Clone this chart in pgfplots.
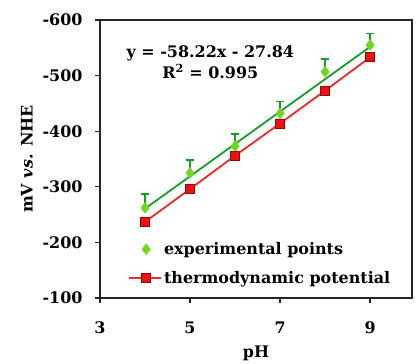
\documentclass[border=0pt]{standalone}
\usepackage{fontspec}
\setmainfont{DejaVu Serif}
\usepackage{pgfplots}
\pgfplotsset{compat=1.18}
\definecolor{gline}{RGB}{20,160,40}
\definecolor{gmark}{RGB}{110,215,30}
\definecolor{rline}{RGB}{240,40,40}
\definecolor{rmark}{RGB}{230,20,20}
\begin{document}
\begin{tikzpicture}[font=\fontsize{16}{19}\selectfont\bfseries]
\path (-100bp,-61bp) rectangle (317bp,298bp);
\begin{axis}[
  at={(0,0)}, anchor=south west,
  scale only axis,
  width=312bp, height=278bp,
  xmin=3, xmax=9.93,
  ymin=-600, ymax=-100,
  y dir=reverse,
  xtick={3,5,7,9},
  ytick={-600,-500,-400,-300,-200,-100},
  xtick pos=left, ytick pos=left,
  tick align=outside,
  major tick length=5bp,
  axis line style={line width=1.4pt, black!85},
  every tick/.style={line width=1.4pt, black!85},
  /pgf/number format/assume math mode=true,
  /pgf/number format/1000 sep={},
  xlabel={pH},
  ylabel={mV \textit{vs.} NHE},
  xlabel style={yshift=-5bp},
  ylabel style={yshift=3bp},
  xticklabel style={yshift=-15bp},
  yticklabel style={xshift=-9bp},
  legend style={draw=none, fill=none, at={(0.09,0.04)}, anchor=south west, row sep=11bp, inner sep=0pt, font=\fontsize{16}{19}\selectfont\bfseries},
  legend cell align=left,
  legend image code/.code={\draw[mark repeat=2,mark phase=2] plot coordinates {(0bp,0bp) (17bp,0bp) (32bp,0bp)};},
  clip=false,
]
% linear trend line of experimental points
\addplot[gline, line width=1.8pt, forget plot] coordinates {(4,-260.7) (9,-551.8)};
% experimental points
\addplot[only marks, mark=diamond*, mark size=5.5bp, mark options={fill=gmark, draw=gmark},
  error bars/.cd, y dir=minus, y explicit,
  error bar style={gline, line width=1.4pt},
  error mark options={gline, line width=1.4pt, mark size=4bp, rotate=90}]
  coordinates {(4,-262) -= (0,25) (5,-325) -= (0,23) (6,-373) -= (0,22) (7,-432) -= (0,21) (8,-507) -= (0,23) (9,-555) -= (0,21)};
% thermodynamic potential
\addplot[rline, line width=1.8pt, mark=square*, mark size=4.5bp, mark options={fill=rmark, draw=red!60!black, line width=0.6pt}]
  coordinates {(4,-237) (5,-296) (6,-356) (7,-414) (8,-473) (9,-533)};
\legend{experimental points, thermodynamic potential}
\node[align=center, font=\fontsize{16}{19}\selectfont\bfseries] at (axis cs:5.45,-524) {y = -58.22x - 27.84\\[2bp]R$^{\mathbf{2}}$ = 0.995};
\end{axis}
\end{tikzpicture}
\end{document}
